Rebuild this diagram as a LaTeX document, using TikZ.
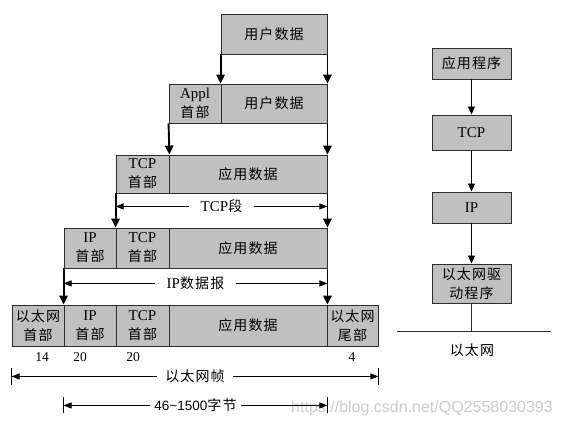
\documentclass[tikz,border=0pt]{standalone}
\usepackage{fontspec}
\setmainfont{Liberation Serif}
\newfontfamily\cjk[LetterSpace=8]{Noto Sans CJK SC}
\newfontfamily\sansf{Liberation Sans}
\usetikzlibrary{arrows.meta}
\definecolor{boxgray}{RGB}{192,192,192}
\definecolor{edge}{RGB}{45,45,45}
\newcommand\zh[1]{{\cjk\fontsize{14}{19}\selectfont #1}}
\newcommand\la[1]{{\fontsize{15}{19}\selectfont #1}}
\begin{document}
\begin{tikzpicture}[x=1pt,y=-1pt,
  cell/.style={draw=edge, line width=0.9pt, fill=boxgray, inner sep=0pt, align=center,
               font=\fontsize{14}{19}\selectfont},
  layer/.style={cell, minimum width=79pt},
  drop/.style={draw=black, line width=1.9pt, -{Triangle[length=9pt,width=8.5pt]}},
  thinarrow/.style={draw=black, line width=0.9pt, -{Triangle[length=8pt,width=7pt]}},
  span/.style={draw=black, line width=0.8pt, {Triangle[length=8pt,width=6pt]}-{Triangle[length=8pt,width=6pt]}},
  lbl/.style={fill=white, inner ysep=3pt, inner xsep=8pt},
  tick/.style={draw=black, line width=1pt},
  num/.style={inner sep=0pt, font=\fontsize{13.5}{13.5}\selectfont}
]
\useasboundingbox[fill=white] (0,0) rectangle (563,427);

% watermark
\node[text=black!20, font=\sansf\fontsize{16}{16}\selectfont] (wm) at (422,408) {https://blog.csdn.net/QQ2558030393};

% row 1
\node[cell, minimum width=106pt, minimum height=40pt] (u1) at (274,34) {\zh{用户数据}};
% row 2
\node[cell, minimum width=52pt, minimum height=39pt] (a2) at (195,103.5) {\la{Appl}\\\zh{首部}};
\node[cell, minimum width=106pt, minimum height=39pt] (u2) at (274,103.5) {\zh{用户数据}};
% row 3
\node[cell, minimum width=53pt, minimum height=38pt] (t3) at (142.5,174) {\la{TCP}\\\zh{首部}};
\node[cell, minimum width=158pt, minimum height=38pt] (d3) at (248,174) {\zh{应用数据}};
% row 4
\node[cell, minimum width=52pt, minimum height=40pt] (i4) at (90,248) {\la{IP}\\\zh{首部}};
\node[cell, minimum width=53pt, minimum height=40pt] (t4) at (142.5,248) {\la{TCP}\\\zh{首部}};
\node[cell, minimum width=158pt, minimum height=40pt] (d4) at (248,248) {\zh{应用数据}};
% row 5
\node[cell, minimum width=52pt, minimum height=41pt] (e5) at (38,325.5) {\zh{以太网}\\\zh{首部}};
\node[cell, minimum width=52pt, minimum height=41pt] (i5) at (90,325.5) {\la{IP}\\\zh{首部}};
\node[cell, minimum width=53pt, minimum height=41pt] (t5) at (142.5,325.5) {\la{TCP}\\\zh{首部}};
\node[cell, minimum width=158pt, minimum height=41pt] (d5) at (248,325.5) {\zh{应用数据}};
\node[cell, minimum width=51pt, minimum height=41pt] (r5) at (352.5,325.5) {\zh{以太网}\\\zh{尾部}};

% drops
\draw[drop] (u1.south west) -- (u2.north west);
\draw[drop] (u1.south east) -- (u2.north east);
\draw[drop] (a2.south west) -- (t3.north east);
\draw[drop] (u2.south east) -- (d3.north east);
\draw[drop] (t3.south west) -- (t4.north west);
\draw[drop] (d3.south east) -- (d4.north east);
\draw[drop] (i4.south west) -- (i5.north west);
\draw[drop] (d4.south east) -- (d5.north east);

% spans
\draw[span] ([yshift=-13pt]t3.south west) -- node[lbl, inner xsep=12pt]{\la{TCP}\zh{段}} ([yshift=-13pt]d3.south east);
\draw[span] ([yshift=-15pt]i4.south west) -- node[lbl, inner xsep=12pt]{\la{IP}\zh{数据报}} ([yshift=-15pt]d4.south east);

% sizes
\node[num] (n1) at (42,357) {14};
\node[num] (n2) at (80,357) {20};
\node[num] (n3) at (133,357) {20};
\node[num] (n4) at (352,357) {4};

\draw[tick] ([yshift=-22pt]e5.south west) -- ([yshift=-39pt]e5.south west);
\draw[tick] ([yshift=-22pt]r5.south east) -- ([yshift=-39pt]r5.south east);
\draw[span] ([yshift=-30pt]e5.south west) -- node[lbl, inner xsep=8pt]{\zh{以太网帧}} ([yshift=-30pt]r5.south east);

\draw[tick] ([yshift=-51pt]i5.south west) -- ([yshift=-67pt]i5.south west);
\draw[tick] ([yshift=-51pt]d5.south east) -- ([yshift=-67pt]d5.south east);
\draw[span] ([yshift=-59pt]i5.south west) -- node[lbl, inner xsep=4pt]{{\sansf\fontsize{13.5}{19}\selectfont 46\char`~1500}\zh{字节}} ([yshift=-59pt]d5.south east);

% right column
\node[layer, minimum height=31pt] (p1) at (471.5,63.5) {\zh{应用程序}};
\node[layer, minimum height=35pt] (p2) at (471.5,132.5) {\la{TCP}};
\node[layer, minimum height=31pt] (p3) at (471.5,207.5) {\la{IP}};
\node[layer, minimum height=39pt] (p4) at (471.5,283.5) {\zh{以太网驱}\\\zh{动程序}};
\draw[thinarrow] (p1) -- (p2);
\draw[thinarrow] (p2) -- (p3);
\draw[thinarrow] (p3) -- (p4);
\coordinate (eL) at (397,331);
\coordinate (eR) at (551,331);
\draw[draw=edge, line width=0.9pt] (eL) -- (eR);
\draw[draw=edge, line width=0.9pt] (p4.south) -- (p4.south |- eL);
\node (eth) at (472,350) {\zh{以太网}};
\end{tikzpicture}
\end{document}
